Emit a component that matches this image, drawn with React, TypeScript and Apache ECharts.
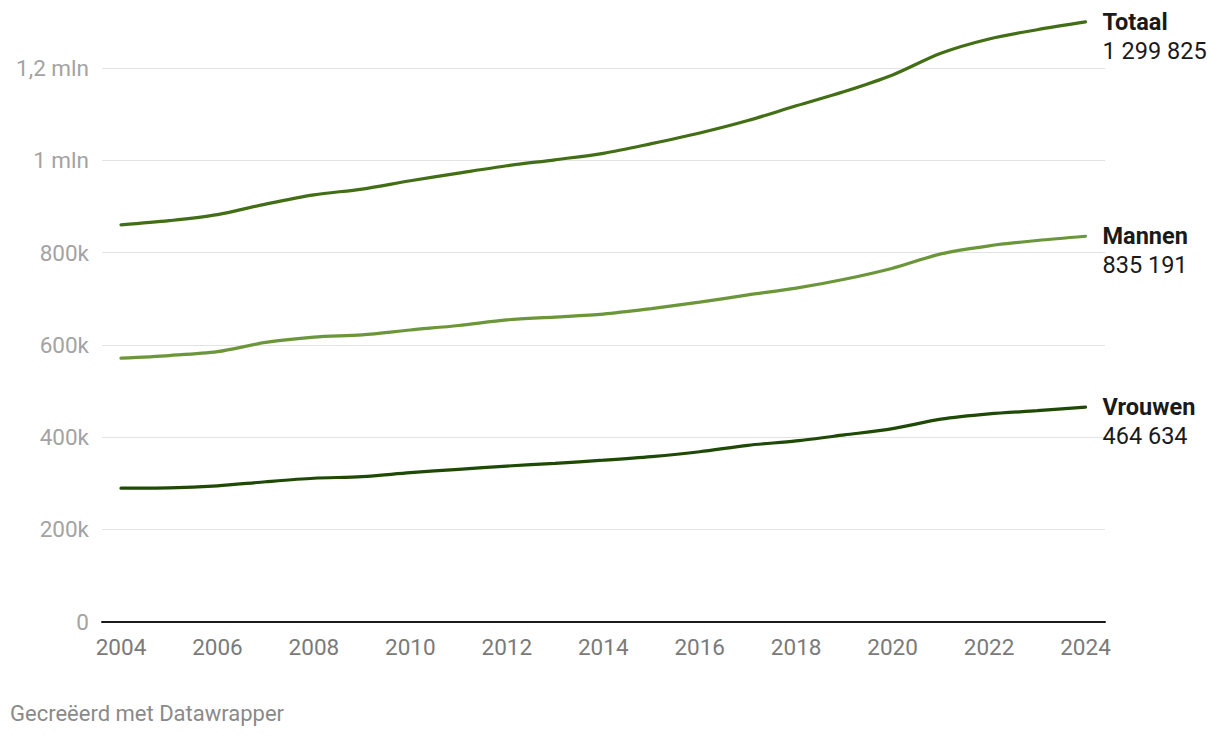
import React, { useEffect, useRef } from "react";
import * as echarts from "echarts";

const years = [2004, 2005, 2006, 2007, 2008, 2009, 2010, 2011, 2012, 2013, 2014, 2015, 2016, 2017, 2018, 2019, 2020, 2021, 2022, 2023, 2024];
const totaal = [860000, 869000, 882000, 905000, 925000, 937500, 955500, 972000, 988000, 1001000, 1015000, 1036000, 1059000, 1086000, 1118000, 1149000, 1185000, 1232000, 1263000, 1283000, 1299825];
const mannen = [571000, 576600, 585000, 605000, 616500, 621500, 632000, 641700, 654000, 660000, 666500, 678500, 692400, 708000, 722700, 742000, 766000, 797000, 814500, 826000, 835191];
const vrouwen = [289000, 289600, 294000, 303000, 310600, 314000, 322800, 330000, 337000, 343000, 349700, 357500, 368000, 382000, 391500, 404500, 418000, 438600, 450000, 457000, 464634];
const seriesNames = ["Totaal", "Mannen", "Vrouwen"];
const seriesColors = ["#426e16", "#6b9639", "#1f4a06"];
const yTicks = [0, 200000, 400000, 600000, 800000, 1000000, 1200000];
const yTickLabels = ["0", "200k", "400k", "600k", "800k", "1 mln", "1,2 mln"];

const fmt = (v: number) => String(Math.round(v)).replace(/\B(?=(\d{3})+(?!\d))/g, " ");

export default function App() {
  const ref = useRef<HTMLDivElement>(null);
  useEffect(() => {
    document.body.style.margin = "0";
    const chart = echarts.init(ref.current!, null, { renderer: "svg" });
    const font = "Roboto";
    const top = 68;
    const bottom = 116.5;
    const allData = [totaal, mannen, vrouwen];
    chart.setOption({
      animation: false,
      backgroundColor: "#ffffff",
      textStyle: { fontFamily: font },
      grid: [
        { left: 102, right: 115, top, bottom },
        { left: 121, right: 134.5, top, bottom },
      ],
      xAxis: [
        {
          type: "value",
          gridIndex: 0,
          min: 0,
          max: 1,
          axisLine: { show: true, onZero: false, lineStyle: { color: "#1a1a1a", width: 2 } },
          axisTick: { show: false },
          axisLabel: { show: false },
          splitLine: { show: false },
        },
        {
          type: "value",
          gridIndex: 1,
          min: 2004,
          max: 2024,
          interval: 2,
          axisLine: { show: false },
          axisTick: { show: false },
          splitLine: { show: false },
          axisLabel: {
            color: "#7a7a7a",
            fontSize: 22.5,
            fontFamily: font,
            margin: 14,
            formatter: (v: number) => String(v),
          },
        },
      ],
      yAxis: [
        {
          type: "value",
          gridIndex: 0,
          min: 0,
          max: 1200000,
          interval: 200000,
          axisLine: { show: false },
          axisTick: { show: false },
          splitLine: { lineStyle: { color: "#e3e3e3", width: 1 } },
          axisLabel: {
            color: "#a3a3a3",
            fontSize: 22.5,
            fontFamily: font,
            margin: 13,
            formatter: (v: number) => {
              const i = yTicks.indexOf(v);
              return i >= 0 ? yTickLabels[i] : "";
            },
          },
        },
        {
          type: "value",
          gridIndex: 1,
          min: 0,
          max: 1200000,
          interval: 200000,
          show: false,
        },
      ],
      series: seriesNames.map((name, si) => ({
        type: "line",
        name,
        xAxisIndex: 1,
        yAxisIndex: 1,
        data: years.map((y, i) => [y, allData[si][i]]),
        smooth: 0.3,
        clip: false,
        symbol: "none",
        lineStyle: { color: seriesColors[si], width: 3.2, cap: "round" },
        z: 10 - si,
        endLabel: {
          show: true,
          distance: 17,
          offset: [0, 14.5],
          formatter: () => `{b|${name}}\n{v|${fmt(allData[si][allData[si].length - 1])}}`,
          rich: {
            b: { fontFamily: font, fontSize: 23.5, fontWeight: "bold", color: "#1a1a1a", lineHeight: 29 },
            v: { fontFamily: font, fontSize: 23.5, color: "#1a1a1a", lineHeight: 29 },
          },
        },
      })),
      graphic: [
        {
          type: "text",
          left: 10,
          top: 702,
          style: { text: "Gecreëerd met Datawrapper", fill: "#8a8a8a", fontSize: 22, fontFamily: font },
        },
      ],
    });
    return () => chart.dispose();
  }, []);
  return <div ref={ref} style={{ width: 1220, height: 738 }} />;
}
